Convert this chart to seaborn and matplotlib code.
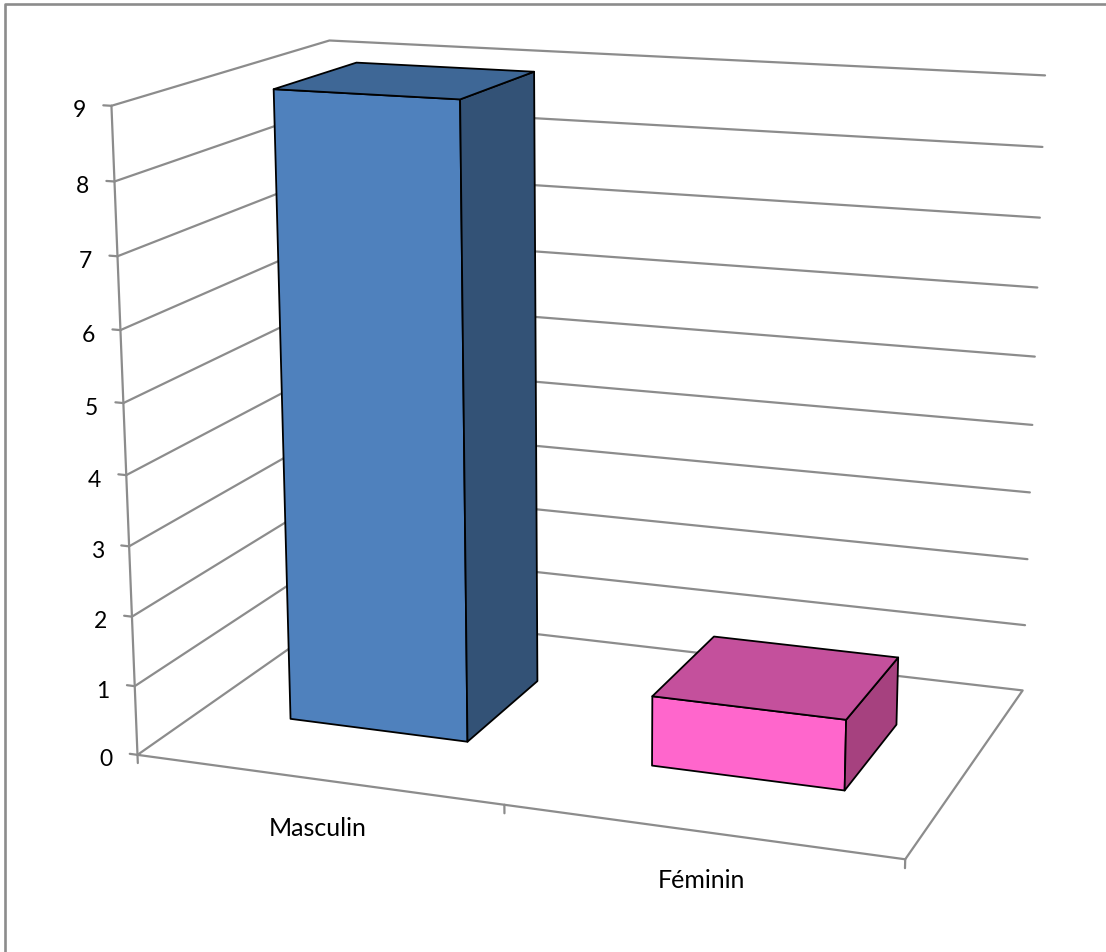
import numpy as np
import pandas as pd
import matplotlib
matplotlib.use("Agg")
import matplotlib.pyplot as plt
import seaborn as sns

# Chart data
categories = ["Masculin", "Féminin"]
values = [9, 1]
value_ticks = list(range(0, 10))

# Colours per bar: front, top and side faces
front_colors = ["#4F81BD", "#FF66CC"]
top_colors = ["#3E6796", "#C4509C"]
side_colors = ["#335276", "#A6417F"]
grid_color = "#8C8C8C"

# Bar footprint inside the unit floor (gap width 100 %)
bar_width = 0.25
depth_range = (0.30, 0.70)

# Camera calibration: reference points (u, d, value) and where they land on the canvas
box_corners = np.array([
    (0, 0, 0), (0, 0, 9), (1, 0, 0), (0, 1, 9), (1, 1, 9), (1, 1, 0), (0, 1, 0),
    (0.125, 0.3, 0), (0.375, 0.3, 0), (0.375, 0.7, 0), (0.125, 0.3, 9),
    (0.375, 0.3, 9), (0.375, 0.7, 9), (0.625, 0.3, 0), (0.875, 0.3, 0),
    (0.875, 0.7, 0), (0.875, 0.7, 1),
], dtype=float)
canvas_corners = np.array([
    (137, 755), (112, 106), (906, 858), (328, 40), (1045, 75), (1022, 691), (345, 611),
    (289, 719), (467, 742), (536, 681), (274, 89),
    (461, 100), (534, 72), (652, 766), (845, 790),
    (897, 725), (898, 658),
], dtype=float)


def fit_camera(world, image):
    """Least-squares 3x4 perspective matrix for the 3-D chart box."""
    rows, rhs = [], []
    for (u, d, v), (x, y) in zip(world, image):
        rows.append([u, d, v, 1, 0, 0, 0, 0, -x * u, -x * d, -x * v])
        rhs.append(x)
        rows.append([0, 0, 0, 0, u, d, v, 1, -y * u, -y * d, -y * v])
        rhs.append(y)
    p = np.linalg.lstsq(np.array(rows), np.array(rhs), rcond=None)[0]
    return np.append(p, 1.0).reshape(3, 4)


camera = fit_camera(box_corners, canvas_corners)


def project(points):
    pts = np.atleast_2d(np.asarray(points, dtype=float))
    hom = np.c_[pts, np.ones(len(pts))] @ camera.T
    return hom[:, :2] / hom[:, 2:3]


sns.set_theme(style="white")
plt.rcParams["font.family"] = ["Lato", "DejaVu Sans"]

fig = plt.figure(figsize=(11.06, 9.52), dpi=100, facecolor="white")
ax = fig.add_axes([0, 0, 1, 1])

# Outer chart frame, visible along the top and left
ax.plot([5, 5, 1106], [952, 4, 4], color="#8C8C8C", lw=1.9, clip_on=False, zorder=1)

# Wall gridlines, floor outline and ticks, collected as a long table
segments = []
for v in value_ticks[1:]:
    segments.append((f"grid{v}", [(0, 0, v), (0, 1, v), (1, 1, v)]))
segments.append(("floor", [(0, 0, 0), (1, 0, 0), (1, 1, 0), (0, 1, 0), (0, 0, 0)]))
segments.append(("axis", [(0, 0, 0), (0, 0, value_ticks[-1])]))
for v in value_ticks:
    segments.append((f"vtick{v}", [(0, 0, v), (-0.011, 0, v)]))
for u in (0, 0.5, 1):
    segments.append((f"ctick{u}", [(u, 0, 0), (u, 0, -0.12)]))

frames = []
for name, corners in segments:
    xy = project(corners)
    frames.append(pd.DataFrame({"line": name, "x": xy[:, 0], "y": xy[:, 1]}))
lines = pd.concat(frames, ignore_index=True)
sns.lineplot(data=lines, x="x", y="y", units="line", estimator=None, sort=False,
             color=grid_color, lw=1.6, ax=ax, legend=False, zorder=2)
ax.set_xlim(0, 1106)
ax.set_ylim(952, 0)
ax.set_axis_off()

# Bars as three visible faces of a cuboid
d0, d1 = depth_range
for i, (value, front, top, side) in enumerate(zip(values, front_colors, top_colors, side_colors)):
    centre = (i + 0.5) / len(categories)
    u0, u1 = centre - bar_width / 2, centre + bar_width / 2
    faces = [
        (front, [(u0, d0, 0), (u1, d0, 0), (u1, d0, value), (u0, d0, value)]),
        (side, [(u1, d0, 0), (u1, d1, 0), (u1, d1, value), (u1, d0, value)]),
        (top, [(u0, d0, value), (u1, d0, value), (u1, d1, value), (u0, d1, value)]),
    ]
    for color, corners in faces:
        xy = project(corners)
        ax.fill(xy[:, 0], xy[:, 1], facecolor=color, edgecolor="black", lw=1.3,
                joinstyle="round", zorder=3 + i)

# Tick labels
for v in value_ticks:
    x, y = project((0, 0, v))[0]
    ax.text(x - 25, y + 5, str(v), ha="right", va="center", fontsize=16.5, color="black")
for i, name in enumerate(categories):
    x, y = project(((i + 0.5) / len(categories), 0, 0))[0]
    ax.text(x + 1, y + 49, name, ha="center", va="center", fontsize=18, color="black")

fig.savefig("out.png", dpi=100)
